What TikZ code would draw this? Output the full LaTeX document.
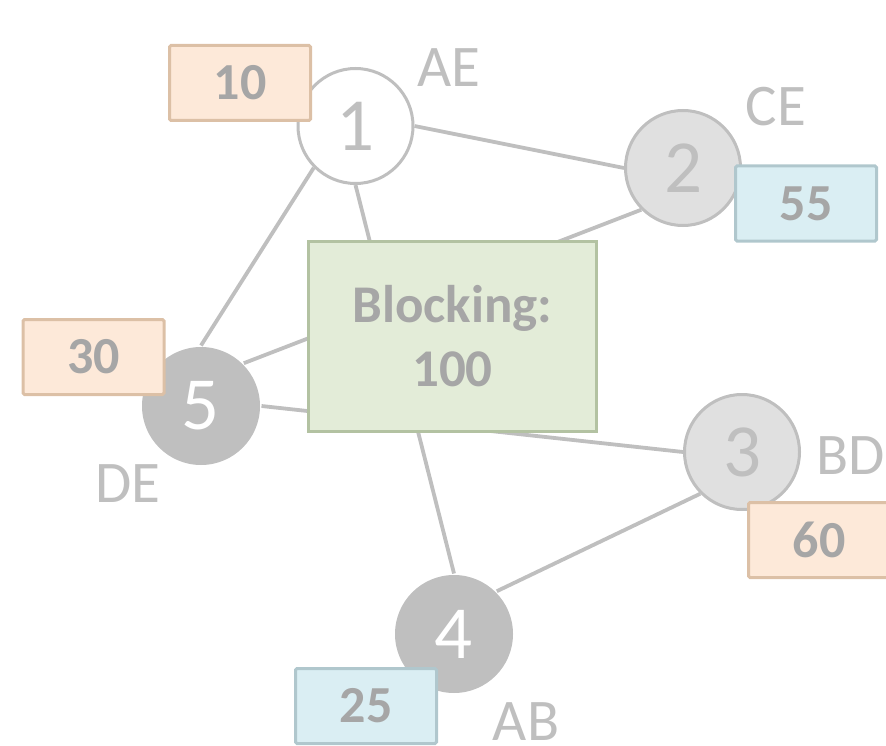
\documentclass[tikz,border=0pt]{standalone}
\usepackage{fontspec}
\setmainfont{Carlito}
\usetikzlibrary{backgrounds}
\definecolor{lgray}{HTML}{BFBFBF}
\definecolor{tgray}{HTML}{A6A6A6}
\definecolor{cfill}{HTML}{E0E0E0}
\definecolor{ofill}{HTML}{FDE9D9}
\definecolor{oborder}{HTML}{DCC0A6}
\definecolor{bfill}{HTML}{DAEEF3}
\definecolor{bborder}{HTML}{B0C7CD}
\definecolor{gfill}{HTML}{E3ECD8}
\definecolor{gborder}{HTML}{B3C2A2}
\tikzset{
  vert/.style={circle,minimum size=115pt,inner sep=0pt,line width=3pt,font=\fontsize{75}{80}\selectfont},
  vwhite/.style={vert,draw=lgray,fill=white,text=lgray},
  vlight/.style={vert,draw=lgray,fill=cfill,text=lgray},
  vdark/.style={vert,minimum size=118pt,fill=lgray,text=white},
  valbox/.style={rectangle,rounded corners=1.5pt,line width=3pt,minimum width=141pt,minimum height=75pt,inner sep=0pt,text=tgray,font=\fontsize{52}{60}\selectfont\bfseries},
  obox/.style={valbox,draw=oborder,fill=ofill},
  bbox/.style={valbox,draw=bborder,fill=bfill},
  lbl/.style={text=lgray,inner sep=0pt,font=\fontsize{59}{64}\selectfont},
  edge/.style={draw=lgray,line width=3.8pt}
}
\begin{document}
\begin{tikzpicture}[x=1pt,y=-1pt]
\useasboundingbox (0,0) rectangle (886,746);
\clip (0,0) rectangle (886,746);
\node[rectangle,draw=gborder,fill=gfill,line width=3pt,minimum width=288pt,minimum height=190pt,inner sep=0pt,align=center,text=tgray,font=\fontsize{53}{64}\selectfont\bfseries] (blk) at (452.5,336.5) {Blocking:\\100};
\node[vwhite] (c1) at (355.5,126) {1};
\node[vlight] (c2) at (683,168) {2};
\node[vlight] (c3) at (742,452) {3};
\node[vdark] (c4) at (454,634) {4};
\node[vdark] (c5) at (201,406) {5};
\node[obox] (b10) at (240,83) {10};
\node[bbox] (b55) at (806,203.5) {55};
\node[obox] (b30) at (93.5,357) {30};
\node[obox] (b60) at (819,540) {60};
\node[bbox] (b25) at (366,706) {25};
\node[lbl] (lae) at (449,68) {AE};
\node[lbl] (lce) at (776,107) {CE};
\node[lbl] (lbd) at (851,456) {BD};
\node[lbl] (lde) at (128,484) {DE};
\node[lbl] (lab) at (526,722) {AB};
\begin{scope}[on background layer]
\draw[edge] (c1.east) -- (c2.west);
\draw[edge] (c1.south west) -- (c5.north);
\draw[edge] (c1.south) -- (c4.north);
\draw[edge] (c2.south west) -- (c5.north east);
\draw[edge] (c5.east) -- (c3.west);
\draw[edge] (c3.south west) -- (c4.north east);
\end{scope}
\end{tikzpicture}
\end{document}
